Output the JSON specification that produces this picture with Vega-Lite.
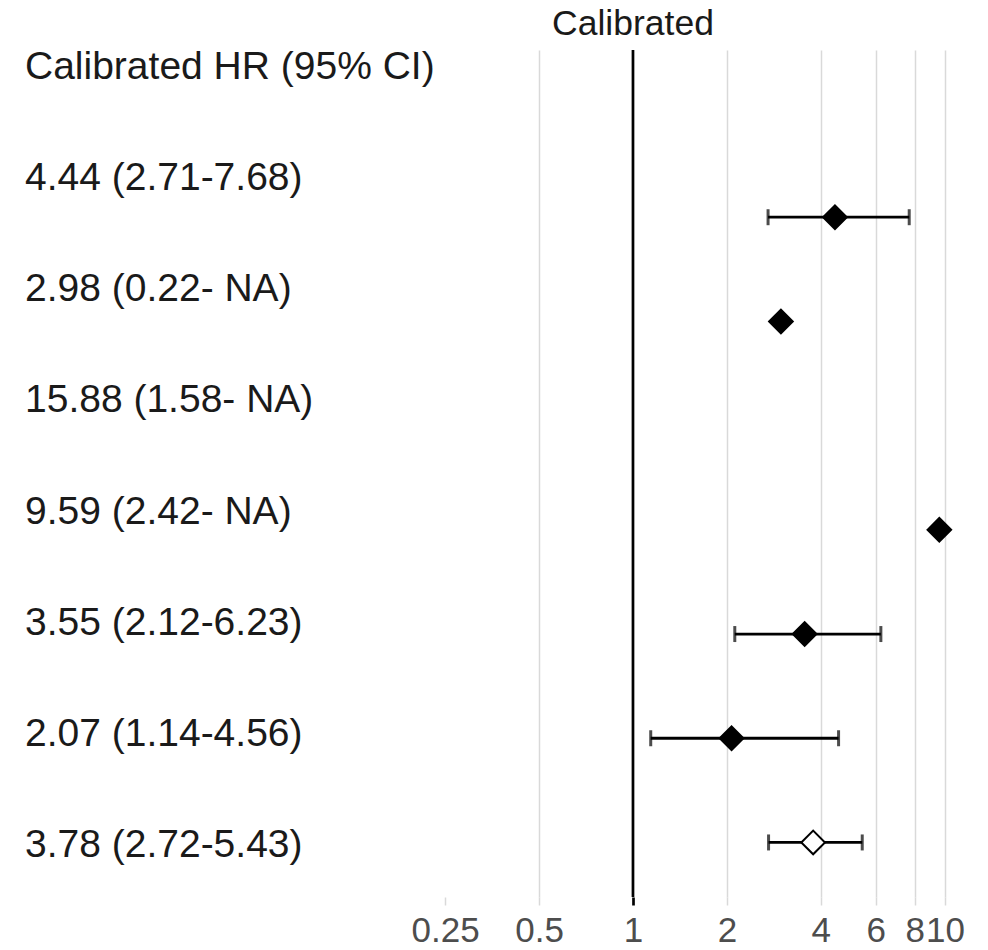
{
  "$schema": "https://vega.github.io/schema/vega-lite/v6.json",
  "padding": {"top": 7, "left": 25, "right": 5, "bottom": 5},
  "background": "white",
  "bounds": "flush",
  "spacing": 15,
  "config": {"view": {"stroke": null}, "font": "Liberation Sans"},
  "data": {"values": [
    {"row": 0, "col": "HR", "label": "Calibrated HR (95% CI)", "hr": null, "lo": null, "hi": null, "kind": "header"},
    {"row": 1, "col": "HR", "label": "4.44 (2.71-7.68)", "hr": 4.44, "lo": 2.71, "hi": 7.68, "kind": "study"},
    {"row": 2, "col": "HR", "label": "2.98 (0.22- NA)", "hr": 2.98, "lo": 0.22, "hi": null, "kind": "study"},
    {"row": 3, "col": "HR", "label": "15.88 (1.58- NA)", "hr": 15.88, "lo": 1.58, "hi": null, "kind": "study"},
    {"row": 4, "col": "HR", "label": "9.59 (2.42- NA)", "hr": 9.59, "lo": 2.42, "hi": null, "kind": "study"},
    {"row": 5, "col": "HR", "label": "3.55 (2.12-6.23)", "hr": 3.55, "lo": 2.12, "hi": 6.23, "kind": "study"},
    {"row": 6, "col": "HR", "label": "2.07 (1.14-4.56)", "hr": 2.07, "lo": 1.14, "hi": 4.56, "kind": "study"},
    {"row": 7, "col": "HR", "label": "3.78 (2.72-5.43)", "hr": 3.78, "lo": 2.72, "hi": 5.43, "kind": "summary"}
  ]},
  "hconcat": [
    {
      "width": 390,
      "height": 847,
      "mark": {"type": "text", "align": "left", "baseline": "middle", "fontSize": 39, "color": "#1a1a1a", "font": "Liberation Sans"},
      "encoding": {
        "x": {"field": "col", "type": "nominal", "scale": {"type": "band", "paddingInner": 0, "paddingOuter": 0}, "bandPosition": 0, "axis": null},
        "y": {"field": "row", "type": "ordinal", "scale": {"type": "point", "padding": 0.31, "align": 0.246}, "axis": null},
        "text": {"field": "label"}
      }
    },
    {
      "width": 545,
      "height": 847,
      "title": {"text": "Calibrated", "anchor": "start", "dx": 141, "fontSize": 35.5, "fontWeight": "normal", "color": "#1a1a1a", "font": "Liberation Sans", "offset": 6},
      "layer": [
        {
          "data": {"values": [{"ref": 1}]},
          "mark": {"type": "rule", "color": "black", "strokeWidth": 2.7},
          "encoding": {
            "x": {"field": "ref", "type": "quantitative"}
          }
        },
        {
          "transform": [{"filter": "isValid(datum.hi) && isValid(datum.lo)"}],
          "mark": {"type": "rule", "color": "black", "strokeWidth": 2.8},
          "encoding": {
            "x": {"field": "lo", "type": "quantitative"},
            "x2": {"field": "hi"},
            "y": {"field": "row", "type": "ordinal", "scale": {"type": "point", "padding": 0.564, "align": 0.536, "domain": [0, 1, 2, 3, 4, 5, 6, 7]}, "axis": null}
          }
        },
        {
          "transform": [{"filter": "isValid(datum.hi) && isValid(datum.lo)"}],
          "mark": {"type": "tick", "color": "black", "thickness": 3, "size": 16, "orient": "vertical"},
          "encoding": {
            "x": {"field": "lo", "type": "quantitative"},
            "y": {"field": "row", "type": "ordinal"}
          }
        },
        {
          "transform": [{"filter": "isValid(datum.hi) && isValid(datum.lo)"}],
          "mark": {"type": "tick", "color": "black", "thickness": 3, "size": 16, "orient": "vertical"},
          "encoding": {
            "x": {"field": "hi", "type": "quantitative"},
            "y": {"field": "row", "type": "ordinal"}
          }
        },
        {
          "transform": [{"filter": "isValid(datum.hr)"}],
          "mark": {"type": "point", "shape": "diamond", "size": 560, "stroke": "black", "strokeWidth": 2, "opacity": 1, "filled": false, "clip": true},
          "encoding": {
            "x": {
              "field": "hr",
              "type": "quantitative",
              "scale": {"type": "log", "domain": [0.2236, 12.48], "nice": false},
              "axis": {
                "values": [0.25, 0.5, 1, 2, 4, 6, 8, 10],
                "format": "~g",
                "title": null,
                "domain": false,
                "tickSize": 8,
                "tickWidth": {"condition": {"test": "datum.value == 1", "value": 2.7}, "value": 1.5},
                "tickColor": {"condition": {"test": "datum.value == 1", "value": "black"}, "value": "#d9d9d9"},
                "grid": true,
                "gridWidth": 1.5,
                "gridColor": {"condition": {"test": "datum.value < 0.3", "value": "transparent"}, "value": "#d9d9d9"},
                "labelFontSize": 35,
                "labelFont": "Liberation Sans",
                "labelColor": "#4d4d4d",
                "labelPadding": 8,
                "labelOverlap": false,
                "labelFlush": false,
                "labelBound": false
              }
            },
            "y": {"field": "row", "type": "ordinal"},
            "fill": {"field": "kind", "type": "nominal", "scale": {"domain": ["study", "summary", "header"], "range": ["black", "white", "white"]}, "legend": null}
          }
        }
      ]
    }
  ]
}
